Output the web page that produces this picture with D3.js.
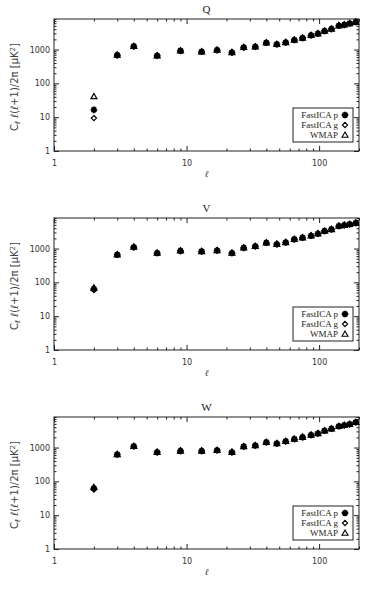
<!DOCTYPE html>
<html>
<head>
<meta charset="utf-8">
<script src="https://cdn.jsdelivr.net/npm/d3@7"></script>
<style>
  body { margin: 0; background: #fff; }
  svg { display: block; }
  .tick text { font-family: "DejaVu Sans", sans-serif; font-size: 8px; fill: #333; }
  .tick line { stroke: #222; }
</style>
</head>
<body>
<svg id="chart" width="374" height="592"></svg>
<script>
// multipole bins
const ells = [2,3,4,6,9,13,17,22,27,33,40,48,56,65,75,87,98,110,124,141,155,170,189];

// Q band
const qFastP = [16.5,685,1245,655,920,860,965,825,1160,1210,1590,1430,1630,1920,2200,2640,2960,3550,4080,5100,5380,5900,6500];
const qFastG = [9.4,680,1230,650,910,855,955,815,1150,1200,1580,1420,1620,1910,2190,2630,2950,3540,4060,5080,5360,5880,6480];
const qWmap  = [41,690,1250,660,925,865,970,830,1170,1215,1600,1435,1640,1930,2210,2650,2970,3560,4090,5120,5400,5910,6510];

// V band
const vFastP = [64,655,1100,735,855,825,880,735,1050,1170,1480,1350,1520,1890,2100,2400,2760,3300,3700,4620,4930,5230,5730];
const vFastG = [59,650,1090,730,850,820,875,730,1045,1160,1470,1340,1510,1880,2090,2390,2750,3290,3690,4600,4910,5210,5710];
const vWmap  = [69,660,1110,740,860,830,885,740,1055,1175,1490,1360,1530,1900,2110,2410,2770,3310,3710,4640,4950,5250,5750];

// W band
const wFastP = [62,625,1090,730,795,795,830,730,1070,1150,1430,1320,1530,1780,2030,2350,2620,3150,3580,4250,4560,4900,5590];
const wFastG = [57,620,1080,725,790,790,825,725,1065,1140,1420,1310,1520,1770,2020,2340,2610,3140,3570,4230,4540,4880,5570];
const wWmap  = [67,630,1100,735,800,800,835,735,1075,1155,1440,1330,1540,1790,2040,2360,2630,3160,3590,4270,4580,4920,5610];

const bands = ["Q", "V", "W"];
const bandData = {Q: [qFastP, qFastG, qWmap], V: [vFastP, vFastG, vWmap], W: [wFastP, wFastG, wWmap]};
const legendLabels = ["FastICA p", "FastICA g", "WMAP"];

const xMajor = [1, 10, 100];
const yMajor = [1, 10, 100, 1000];

const svg = d3.select("#chart");
const panelTops = [19, 218, 417];
const panelH = 132;
const left = 54, right = 359;

const x = d3.scaleLog().domain([1, 200]).range([left, right]);

function minors(lo, hi){
    let out = [];
    for (let d = 1; d <= hi; d *= 10)
        for (let k = 2; k <= 9; k++)
            if (k * d >= lo && k * d <= hi) out.push(k * d);
    return out;
}

// IDL-like plot symbols: asterisk, diamond, triangle (size = half width)
const idlAsterisk = {
    draw(ctx, r){
        let a = r * 0.71;
        ctx.moveTo(-r, 0); ctx.lineTo(r, 0);
        ctx.moveTo(0, -r); ctx.lineTo(0, r);
        ctx.moveTo(-a, -a); ctx.lineTo(a, a);
        ctx.moveTo(-a, a); ctx.lineTo(a, -a);
    }
};
const idlDiamond = {
    draw(ctx, r){
        ctx.moveTo(0, -r); ctx.lineTo(r, 0); ctx.lineTo(0, r); ctx.lineTo(-r, 0); ctx.closePath();
    }
};
const idlTriangle = {
    draw(ctx, r){
        ctx.moveTo(0, -r); ctx.lineTo(r, r * 0.75); ctx.lineTo(-r, r * 0.75); ctx.closePath();
    }
};
const shapes = [
    d3.symbol().type(idlAsterisk).size(3.3)(),
    d3.symbol().type(idlDiamond).size(2.6)(),
    d3.symbol().type(idlTriangle).size(3)()
];

bands.forEach((band, bi) => {
    let top = panelTops[bi];
    let bottom = top + panelH;
    let y = d3.scaleLog().domain([1, 8000]).range([bottom, top]);
    let g = svg.append("g");

    g.append("text")
        .attr("x", (left + right) / 2)
        .attr("y", top - 6)
        .attr("text-anchor", "middle")
        .attr("font-family", "Liberation Serif, serif")
        .attr("font-size", 11)
        .attr("fill", "#222")
        .text(band);

    // axes: majors with labels, minors without, mirrored on top/right
    let axes = [
        [d3.axisBottom(x), bottom, xMajor, minors(1, 200), true],
        [d3.axisTop(x), top, xMajor, minors(1, 200), false],
        [d3.axisLeft(y), left, yMajor, minors(1, 8000), true],
        [d3.axisRight(y), right, yMajor, minors(1, 8000), false]
    ];
    axes.forEach(([ax, pos, maj, mnr, lab], i) => {
        let horiz = i < 2;
        let tr = horiz ? `translate(0,${pos})` : `translate(${pos},0)`;
        let ga = g.append("g").attr("transform", tr)
            .call(ax.tickValues(maj).tickSizeInner(-5).tickSizeOuter(0)
                .tickPadding(horiz ? 9 : 4)
                .tickFormat(lab ? d3.format("d") : ""));
        ga.select(".domain").remove();
        let gm = g.append("g").attr("transform", tr)
            .call(ax.tickValues(mnr).tickSizeInner(-2.5).tickFormat(""));
        gm.select(".domain").remove();
    });

    g.append("rect")
        .attr("x", left).attr("y", top)
        .attr("width", right - left).attr("height", panelH)
        .attr("fill", "none").attr("stroke", "#222").attr("stroke-width", 1);

    // y label
    let yl = g.append("text")
        .attr("transform", `translate(18,${top + panelH / 2 + 2}) rotate(-90)`)
        .attr("text-anchor", "middle")
        .attr("font-family", "DejaVu Sans, sans-serif")
        .attr("font-size", 10)
        .attr("fill", "#444");
    yl.append("tspan").text("C");
    yl.append("tspan").attr("font-size", 7).attr("dy", 2).text("ℓ");
    yl.append("tspan").attr("dy", -2).text(" ℓ(ℓ+1)/2π  [μK");
    yl.append("tspan").attr("font-size", 7).attr("dy", -3).text("2");
    yl.append("tspan").attr("dy", 3).text("]");

    g.append("text")
        .attr("x", (left + right) / 2)
        .attr("y", bottom + 26)
        .attr("text-anchor", "middle")
        .attr("font-family", "DejaVu Serif, serif")
        .attr("font-style", "italic")
        .attr("font-size", 9)
        .attr("fill", "#333")
        .text("ℓ");

    // data points
    bandData[band].forEach((series, si) => {
        g.selectAll(null)
            .data(series.map((v, i) => ({l: ells[i], v: v})))
            .join("path")
            .attr("d", shapes[si])
            .attr("transform", d => `translate(${x(d.l)},${y(d.v)})`)
            .attr("fill", "none")
            .attr("stroke", "#000")
            .attr("stroke-width", si === 0 ? 1.8 : 1.2);
    });

    // legend
    let lx = 293, ly = top + 89, lw = 60, lh = 34;
    g.append("rect").attr("x", lx).attr("y", ly).attr("width", lw).attr("height", lh)
        .attr("fill", "#fff").attr("stroke", "#222").attr("stroke-width", 1);
    legendLabels.forEach((t, i) => {
        let cy = ly + 7 + i * 10;
        g.append("text")
            .attr("x", lx + 45).attr("y", cy + 3)
            .attr("text-anchor", "end")
            .attr("font-family", "Liberation Serif, serif")
            .attr("font-size", 9)
            .attr("fill", "#222")
            .text(t);
        g.append("path")
            .attr("d", shapes[i])
            .attr("transform", `translate(${lx + 52},${cy})`)
            .attr("fill", "none").attr("stroke", "#000")
            .attr("stroke-width", i === 0 ? 1.8 : 1.1);
    });
});
</script>
</body>
</html>
